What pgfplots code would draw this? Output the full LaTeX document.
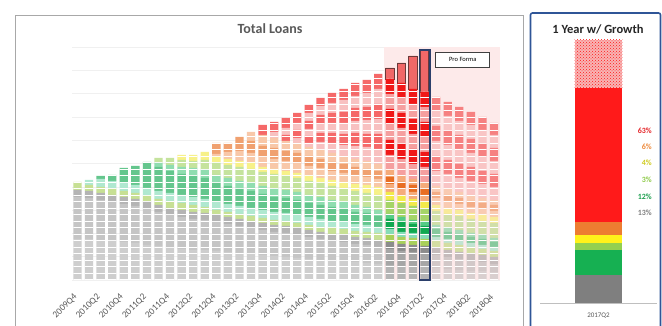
\documentclass[border=0pt]{standalone}
\usepackage{fontspec}
\setmainfont{Carlito}
\usepackage{pgfplots}
\pgfplotsset{compat=1.18}
\usepackage{pgfplotstable}
\usetikzlibrary{patterns}

% vintage palette (full strength; older quarters are drawn faded)
\definecolor{cGA}{HTML}{B4B4B4}
\definecolor{cGM}{HTML}{A6A6A6}
\definecolor{cGB}{HTML}{8C8C8C}
\definecolor{cLime}{HTML}{A9D05A}
\definecolor{cMint}{HTML}{86DCB7}
\definecolor{cGdk}{HTML}{10A850}
\definecolor{cGlt}{HTML}{55CB86}
\definecolor{cLgr}{HTML}{A5D468}
\definecolor{cYel}{HTML}{F2EA4A}
\definecolor{cPch}{HTML}{F5AB7A}
\definecolor{cOrg}{HTML}{E86E23}
\definecolor{cPk}{HTML}{F59F9F}
\definecolor{cRd}{HTML}{F01818}
\definecolor{cPF}{HTML}{F06868}
\definecolor{cPFline}{HTML}{6B3A3A}
\definecolor{cHL}{HTML}{2B3F6B}
\definecolor{pinkbg}{HTML}{FDEAEA}
\definecolor{gridc}{HTML}{F0F0F0}
\definecolor{tickc}{HTML}{595959}
\definecolor{framec}{HTML}{A8A8A8}
\definecolor{blueframe}{HTML}{2F5597}
% one-year panel
\definecolor{sGray}{HTML}{7F7F7F}
\definecolor{sGreen}{HTML}{16B052}
\definecolor{sLgreen}{HTML}{92D050}
\definecolor{sYellow}{HTML}{FFF21A}
\definecolor{sOrange}{HTML}{ED7D31}
\definecolor{sRed}{HTML}{FF1A1A}
\definecolor{sHatch}{HTML}{F8B4B4}
\definecolor{lRed}{HTML}{E5262A}
\definecolor{lOrange}{HTML}{EE8A3C}
\definecolor{lYellow}{HTML}{CFCB1E}
\definecolor{lLgreen}{HTML}{8FCB4A}
\definecolor{lGreen}{HTML}{1EA050}
\definecolor{lGray}{HTML}{808080}

% thin white separators between loan segments
\pgfdeclarepatternformonly{hstripes}{\pgfqpoint{-1pt}{-1pt}}{\pgfqpoint{5pt}{7.5pt}}{\pgfqpoint{4pt}{6.5pt}}{%
  \pgfpathrectangle{\pgfqpoint{-1pt}{0pt}}{\pgfqpoint{6pt}{1.2pt}}%
  \pgfusepath{fill}}

\pgfplotsset{
  % #1 vintage colour, #2 tint (e.g. 65!white)
  seg/.style 2 args={fill=#1!#2, draw=none,
    postaction={pattern=hstripes, pattern color=white}},
  loangeom/.style={scale only axis, width=427.5pt, height=233pt,
    at={(72.3pt,46pt)}, anchor=south west,
    xmin=-0.45, xmax=36.5, ymin=0, ymax=233},
}

% balances by origination vintage, quarter index q (0 = 2009Q4)
\pgfplotstableread{
q gA gM gB lime mint gdk glt lgr yel pA org pB p1 r1 p2 r2 p3 r3
0 41 42 7 8 0 0 0 0 0 0 0 0 0 0 0 0 0 0
1 41 41 7 6 5 0 0 0 0 0 0 0 0 0 0 0 0 0
2 40 40 7 6 8 3 0 0 0 0 0 0 0 0 0 0 0 0
3 39 39 7 6 8 6 0 0 0 0 0 0 0 0 0 0 0 0
4 38 38 7 6 8 15 0 0 0 0 0 0 0 0 0 0 0 0
5 37 37 7 6 8 19 0 0 0 0 0 0 0 0 0 0 0 0
6 35 36 7 6 8 26 0 0 0 0 0 0 0 0 0 0 0 0
7 34 34 7 6 8 24 4 5 0 0 0 0 0 0 0 0 0 0
8 32 33 7 7 8 22 6 7 0 0 0 0 0 0 0 0 0 0
9 31 32 7 7 8 21 7 7 5 0 0 0 0 0 0 0 0 0
10 30 31 7 7 8 21 8 7 6 0 0 0 0 0 0 0 0 0
11 30 30 7 6 8 21 8 10 8 0 0 0 0 0 0 0 0 0
12 29 29 7 5 8 19 8 12 6 3 11 0 0 0 0 0 0 0
13 28 28 7 5 8 18 8 13 6 7 9 0 0 0 0 0 0 0
14 27 27 7 5 8 17 8 14 6 10 14 0 0 0 0 0 0 0
15 26 26 7 5 8 17 8 14 6 10 12 9 0 0 0 0 0 0
16 25 25 7 5 8 16 8 14 5 10 11 11 0 0 0 0 0 10
17 24 24 7 5 8 15 8 15 5 10 11 10 0 0 0 0 6 10
18 23 24 7 5 8 15 8 14 5 10 10 10 0 0 0 6 7 10
19 22 23 7 5 8 15 8 14 5 10 10 10 0 0 5 8 7 10
20 21 22 7 5 8 14 8 14 5 10 10 9 4 7 7 8 8 8
21 20 21 7 5 8 14 8 14 5 10 9 9 8 9 9 9 9 8
22 19 20 7 6 7 14 7 14 6 9 9 9 10 10 10 10 10 10
23 19 19 7 6 7 13 7 14 6 9 9 8 11 11 11 11 12 11
24 18 18 7 6 7 12 7 14 7 9 8 8 13 13 12 13 12 13
25 17 18 7 6 7 12 6 14 8 8 8 8 14 13 14 13 14 13
26 16 17 7 7 6 11 6 15 8 8 8 7 15 15 15 15 15 15
}\histtab

% pro forma quarters, with new growth on top
\pgfplotstableread{
q gA gM gB lime mint gdk glt lgr yel pA org pB p1 r1 p2 r2 p3 r3 pf
27 15 16 7 7 6 10 5 14 8 8 7 7 15 15 16 15 15 15 11
28 14 15 7 7 5 10 5 14 7 7 7 7 16 15 16 15 15 15 20
29 14 14 7 7 5 9 4 14 7 7 7 6 15 15 15 15 15 15 33
30 13 14 7 7 5 8 4 13 7 7 6 6 16 15 15 15 15 15 42
}\pftab

% run-off projection
\pgfplotstableread{
q gA gM gB lime mint gdk glt lgr yel pA org pB p1 r1 p2 r2 p3 r3
31 12 13 7 7 4 8 4 14 6 7 6 6 15 15 15 15 15 14
32 11 12 7 7 4 7 4 14 6 7 6 6 15 14 15 14 15 14
33 10 11 7 7 4 7 4 14 6 6 6 6 14 14 15 14 14 14
34 9 10 7 7 4 6 4 14 6 6 6 6 14 14 14 14 14 13
35 9 9 7 6 4 6 4 14 6 6 6 5 14 13 14 13 14 13
36 8 8 7 6 4 5 4 15 6 6 6 5 13 13 13 13 13 12
}\projtab

\newcommand\vintagestack[2]{%
  \addplot[seg={cGA}{#2}] table[x=q,y=gA]{#1};
  \addplot[seg={cGM}{#2}] table[x=q,y=gM]{#1};
  \addplot[seg={cGB}{#2}] table[x=q,y=gB]{#1};
  \addplot[seg={cLime}{#2}] table[x=q,y=lime]{#1};
  \addplot[seg={cMint}{#2}] table[x=q,y=mint]{#1};
  \addplot[seg={cGdk}{#2}] table[x=q,y=gdk]{#1};
  \addplot[seg={cGlt}{#2}] table[x=q,y=glt]{#1};
  \addplot[seg={cLgr}{#2}] table[x=q,y=lgr]{#1};
  \addplot[seg={cYel}{#2}] table[x=q,y=yel]{#1};
  \addplot[seg={cPch}{#2}] table[x=q,y=pA]{#1};
  \addplot[seg={cOrg}{#2}] table[x=q,y=org]{#1};
  \addplot[seg={cPch}{#2}] table[x=q,y=pB]{#1};
  \addplot[seg={cPk}{#2}] table[x=q,y=p1]{#1};
  \addplot[seg={cRd}{#2}] table[x=q,y=r1]{#1};
  \addplot[seg={cPk}{#2}] table[x=q,y=p2]{#1};
  \addplot[seg={cRd}{#2}] table[x=q,y=r2]{#1};
  \addplot[seg={cPk}{#2}] table[x=q,y=p3]{#1};
  \addplot[seg={cRd}{#2}] table[x=q,y=r3]{#1};
}

\begin{document}
\begin{tikzpicture}[x=1pt,y=1pt]
\useasboundingbox (0,0) rectangle (662,326);
\clip (0,0) rectangle (662,326);
\fill[white] (0,0) rectangle (662,326);

% panel frames
\draw[framec, line width=0.9pt] (15,311) rectangle (523,-20);
\draw[blueframe, line width=1.6pt, rounded corners=2pt] (530.5,313) rectangle (660.5,-20);

\node[font=\bfseries\fontsize{14}{16}\selectfont, text=tickc] at (270,297) {Total Loans};
\node[font=\bfseries\fontsize{12.5}{14}\selectfont, text=black!85] at (598,297) {1 Year w/ Growth};

% history
\begin{axis}[loangeom, ybar stacked, bar width=0.72,
  axis line style={draw=none}, tick style={draw=none},
  ymajorgrids, grid style={draw=gridc, line width=0.4pt},
  ytick={0,23.3,46.6,69.9,93.2,116.5,139.8,163.1,186.4,209.7,233}, yticklabels={},
  xtick={0,2,...,36},
  xticklabels={2009Q4,2010Q2,2010Q4,2011Q2,2011Q4,2012Q2,2012Q4,2013Q2,2013Q4,2014Q2,2014Q4,2015Q2,2015Q4,2016Q2,2016Q4,2017Q2,2017Q4,2018Q2,2018Q4},
  xticklabel style={xshift=-4.5pt, yshift=-13pt, rotate=45, anchor=north east, inner sep=0pt,
    font=\fontsize{9.3}{10}\selectfont, text=tickc},
  clip=false]
  \fill[pinkbg] (axis cs:26.5,0) rectangle (axis cs:36.5,233);
  \vintagestack{\histtab}{65!white}
\end{axis}

% pro forma quarters
\begin{axis}[loangeom, ybar stacked, bar width=0.72, hide axis, clip=false]
  \vintagestack{\pftab}{100}
  \addplot[fill=cPF, draw=cPFline, line width=0.8pt] table[x=q,y=pf]{\pftab};
\end{axis}

% projection
\begin{axis}[loangeom, ybar stacked, bar width=0.72, hide axis, clip=false]
  \vintagestack{\projtab}{50!pinkbg}
\end{axis}

% selected quarter
\begin{axis}[loangeom, ybar, bar width=0.92, hide axis, clip=false]
  \addplot[fill=none, draw=cHL, line width=1.3pt] coordinates {(30,230)};
  \node[draw=black!75, fill=white, line width=0.7pt, minimum width=54pt, minimum height=15pt,
        inner sep=0pt, font=\fontsize{6.5}{7}\selectfont] at (axis cs:33.3,220.5) {Pro Forma};
\end{axis}

% one year with growth
\begin{axis}[scale only axis, width=117pt, height=263pt, at={(540pt,23pt)}, anchor=south west,
  xmin=-1, xmax=1, ymin=0, ymax=123.5, ybar stacked, bar width=0.82,
  axis y line=none, axis x line*=bottom, axis line style={draw=black!25},
  tick style={draw=none},
  ymajorgrids, grid style={draw=gridc, line width=0.4pt},
  ytick={0,12.35,24.7,37.05,49.4,61.75,74.1,86.45,98.8,111.15,123.5}, yticklabels={},
  xtick={0}, xticklabels={2017Q2},
  xticklabel style={font=\fontsize{7}{8}\selectfont, text=tickc, yshift=-6pt},
  clip=false]
  \addplot[fill=sGray, draw=none] coordinates {(0,13)};
  \addplot[fill=sGreen, draw=none] coordinates {(0,12)};
  \addplot[fill=sLgreen, draw=none] coordinates {(0,3)};
  \addplot[fill=sYellow, draw=none] coordinates {(0,4)};
  \addplot[fill=sOrange, draw=none] coordinates {(0,6)};
  \addplot[fill=sRed, draw=none] coordinates {(0,63)};
  \addplot[fill=sHatch, draw=none, postaction={pattern=crosshatch dots, pattern color=sRed}] coordinates {(0,22.5)};
  \node[anchor=east, text=lRed, font=\bfseries\fontsize{8}{9}\selectfont] at (axis cs:0.97,80.8) {63\%};
  \node[anchor=east, text=lOrange, font=\bfseries\fontsize{8}{9}\selectfont] at (axis cs:0.97,73.3) {6\%};
  \node[anchor=east, text=lYellow, font=\bfseries\fontsize{8}{9}\selectfont] at (axis cs:0.97,65.7) {4\%};
  \node[anchor=east, text=lLgreen, font=\bfseries\fontsize{8}{9}\selectfont] at (axis cs:0.97,57.8) {3\%};
  \node[anchor=east, text=lGreen, font=\bfseries\fontsize{8}{9}\selectfont] at (axis cs:0.97,49.8) {12\%};
  \node[anchor=east, text=lGray, font=\bfseries\fontsize{8}{9}\selectfont] at (axis cs:0.97,42.3) {13\%};
\end{axis}
\end{tikzpicture}
\end{document}
